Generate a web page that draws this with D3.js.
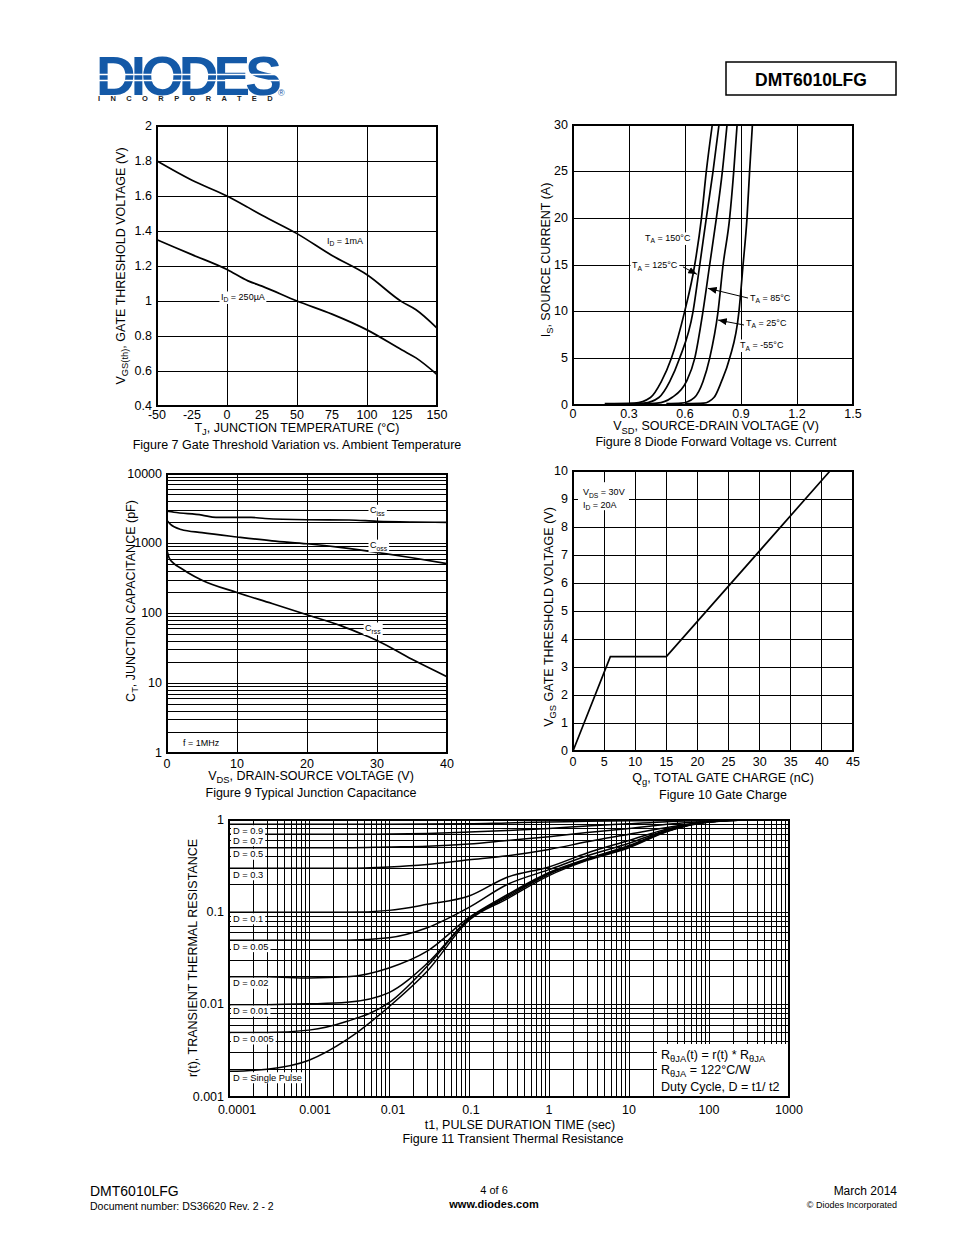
<!DOCTYPE html>
<html><head><meta charset="utf-8">
<script src="https://cdn.jsdelivr.net/npm/d3@7"></script>
<style>
body{margin:0;background:#fff}
svg{display:block}
text{font-family:"Liberation Sans",Arial,Helvetica,sans-serif}
</style>
</head><body>
<svg id="page" width="954" height="1235"></svg>
<script>
// ---------------- DATA ----------------
// Figure 7 : gate threshold vs temperature
const fig7Temp      = [-50, -25, 0, 15, 25, 50, 75, 100, 125, 135, 150];
const fig7Vth1mA    = [1.80, 1.69, 1.60, 1.535, 1.49, 1.385, 1.26, 1.15, 0.995, 0.95, 0.845];
const fig7Vth250uA  = [1.35, 1.265, 1.18, 1.115, 1.085, 1.0, 0.925, 0.835, 0.72, 0.675, 0.58];
const fig7XTicks    = [-50, -25, 0, 25, 50, 75, 100, 125, 150];
const fig7YTicks    = [0.4, 0.6, 0.8, 1, 1.2, 1.4, 1.6, 1.8, 2];
const fig7XGrid     = [-50, 0, 50, 100, 150];

// Figure 8 : diode forward voltage vs current
const fig8Current = [0.15, 0.2, 0.8, 2.5, 5, 10, 15, 20, 25, 30];
const fig8V150    = [0.17, 0.33, 0.415, 0.473, 0.527, 0.598, 0.652, 0.688, 0.714, 0.746];
const fig8V125    = [0.30, 0.38, 0.46, 0.518, 0.571, 0.643, 0.679, 0.714, 0.75, 0.782];
const fig8V85     = [0.38, 0.45, 0.53, 0.607, 0.652, 0.696, 0.732, 0.768, 0.80, 0.825];
const fig8V25     = [0.50, 0.58, 0.65, 0.696, 0.732, 0.777, 0.804, 0.839, 0.861, 0.879];
const fig8Vm55    = [0.60, 0.70, 0.755, 0.795, 0.839, 0.889, 0.911, 0.932, 0.946, 0.961];
const fig8XTicks  = [0, 0.3, 0.6, 0.9, 1.2, 1.5];
const fig8YTicks  = [0, 5, 10, 15, 20, 25, 30];

// Figure 9 : junction capacitance
const fig9VdsCiss = [0, 1, 5, 7, 12, 14, 20, 26, 30, 35, 40];
const fig9Ciss    = [2930, 2830, 2580, 2390, 2390, 2300, 2210, 2190, 2100, 2050, 2030];
const fig9VdsCoss = [0, 0.5, 2, 5, 10, 15, 20, 25, 30, 35, 40];
const fig9Coss    = [2155, 1900, 1600, 1440, 1250, 1100, 1000, 880, 750, 630, 520];
const fig9VdsCrss = [0, 0.3, 1, 2, 3, 5, 10, 15, 20, 25, 28, 30, 35, 40];
const fig9Crss    = [803, 630, 520, 445, 385, 300, 200, 139, 96, 66, 50, 41, 22, 12.4];
const fig9XTicks  = [0, 10, 20, 30, 40];
const fig9YTicks  = [1, 10, 100, 1000, 10000];

// Figure 10 : gate charge
const fig10Qg     = [0, 6, 15, 41.3];
const fig10Vgs    = [0, 3.37, 3.37, 10];
const fig10XTicks = [0, 5, 10, 15, 20, 25, 30, 35, 40, 45];
const fig10YTicks = [0, 1, 2, 3, 4, 5, 6, 7, 8, 9, 10];

// Figure 11 : transient thermal resistance
const fig11Time   = [0.0001, 0.0003, 0.001, 0.003, 0.01, 0.03, 0.1, 0.3, 1, 3, 10, 30, 100, 300, 1000];
const fig11D09    = [0.9, 0.9, 0.9, 0.9, 0.9, 0.905, 0.91, 0.93, 0.95, 0.97, 0.98, 0.99, 1, 1, 1];
const fig11D07    = [0.7, 0.7, 0.7, 0.7, 0.705, 0.715, 0.74, 0.77, 0.81, 0.86, 0.91, 0.96, 0.99, 1, 1];
const fig11D05    = [0.5, 0.5, 0.5, 0.5, 0.51, 0.52, 0.55, 0.6, 0.66, 0.73, 0.81, 0.9, 0.97, 1, 1];
const fig11D03    = [0.3, 0.3, 0.3, 0.3, 0.31, 0.33, 0.37, 0.41, 0.48, 0.58, 0.7, 0.83, 0.95, 1, 1];
const fig11D01    = [0.1, 0.1, 0.1, 0.1, 0.105, 0.122, 0.15, 0.24, 0.31, 0.44, 0.6, 0.8, 0.97, 1, 1];
const fig11D005   = [0.05, 0.05, 0.05, 0.05, 0.053, 0.068, 0.113, 0.2, 0.29, 0.41, 0.56, 0.78, 0.96, 1, 1];
const fig11D002   = [0.02, 0.02, 0.0195, 0.02, 0.025, 0.038, 0.088, 0.155, 0.27, 0.38, 0.53, 0.77, 0.96, 1, 1];
const fig11D001   = [0.01, 0.01, 0.0102, 0.0106, 0.0135, 0.028, 0.085, 0.15, 0.265, 0.375, 0.52, 0.76, 0.96, 1, 1];
const fig11D0005  = [0.005, 0.005, 0.0053, 0.0066, 0.0105, 0.026, 0.085, 0.145, 0.26, 0.37, 0.51, 0.76, 0.96, 1, 1];
const fig11Single = [0.0019, 0.002, 0.0025, 0.0042, 0.0095, 0.023, 0.082, 0.14, 0.25, 0.365, 0.5, 0.75, 0.95, 1, 1];
const fig11Duty   = ['0.9', '0.7', '0.5', '0.3', '0.1', '0.05', '0.02', '0.01', '0.005', 'Single Pulse'];
const fig11XTicks = [0.0001, 0.001, 0.01, 0.1, 1, 10, 100, 1000];
const fig11YTicks = [0.001, 0.01, 0.1, 1];

// ---------------- HELPERS ----------------
const svg = d3.select('#page');
svg.append('rect').attr('width', 954).attr('height', 1235).attr('fill', '#fff');

const defs = svg.append('defs');
defs.append('marker').attr('id', 'arr').attr('viewBox', '0 0 10 8')
  .attr('refX', 10).attr('refY', 4).attr('markerWidth', 9).attr('markerHeight', 7)
  .attr('markerUnits', 'userSpaceOnUse').attr('orient', 'auto')
  .append('path').attr('d', 'M0,0L10,4L0,8z').attr('fill', '#000');

function txt(parent, x, y, segs, o = {}) {
  const size = o.size || 12.5;
  const t = parent.append('text')
    .attr('font-size', size)
    .attr('font-weight', o.weight || 'normal')
    .attr('text-anchor', o.anchor || 'start')
    .attr('fill', o.fill || '#000');
  if (o.rotate) t.attr('transform', `translate(${x},${y}) rotate(-90)`);
  else t.attr('x', x).attr('y', y);
  if (typeof segs === 'string') segs = [[segs]];
  let shifted = false;
  segs.forEach(s => {
    const ts = t.append('tspan').text(s[0]);
    if (s[1] === 'sub') {
      ts.attr('font-size', size * 0.75);
      if (!shifted) { ts.attr('dy', size * 0.28); shifted = true; }
    } else if (shifted) { ts.attr('dy', -size * 0.28); shifted = false; }
  });
  if (o.bg) {
    const b = t.node().getBBox();
    const p = o.pad == null ? 1.5 : o.pad;
    parent.insert('rect', () => t.node())
      .attr('x', b.x - p).attr('y', b.y - 0.5).attr('width', b.width + 2 * p).attr('height', b.height + 1)
      .attr('fill', '#fff');
  }
  return t;
}

function grid(g, x, y, xv, yv, sw) {
  const [x0, x1] = x.range(), [y0, y1] = y.range();
  g.append('g').selectAll('line').data(xv).join('line')
    .attr('x1', d => x(d)).attr('x2', d => x(d)).attr('y1', y0).attr('y2', y1)
    .attr('stroke', '#000').attr('stroke-width', sw || 1).attr('shape-rendering', 'crispEdges');
  g.append('g').selectAll('line').data(yv).join('line')
    .attr('x1', x0).attr('x2', x1).attr('y1', d => y(d)).attr('y2', d => y(d))
    .attr('stroke', '#000').attr('stroke-width', sw || 1).attr('shape-rendering', 'crispEdges');
  g.append('rect').attr('x', x0).attr('y', y1).attr('width', x1 - x0).attr('height', y0 - y1)
    .attr('fill', 'none').attr('stroke', '#000').attr('stroke-width', 1.2).attr('shape-rendering', 'crispEdges');
}

function tickLabels(g, x, y, xt, yt, xOff, dxFn) {
  const [x0] = x.range(), [y0] = y.range();
  g.append('g').selectAll('text').data(xt).join('text')
    .attr('x', d => x(d) + (dxFn ? dxFn(d) : 0)).attr('y', y0 + xOff).attr('text-anchor', 'middle').attr('font-size', 12.5)
    .text(d => String(d));
  g.append('g').selectAll('text').data(yt).join('text')
    .attr('x', x0 - 5).attr('y', d => y(d) + 3.5).attr('text-anchor', 'end').attr('font-size', 12.5)
    .text(d => String(d));
}

function curve(g, x, y, xs, ys, sw) {
  const pts = xs.map((v, i) => [x(v), y(ys[i])]);
  g.append('path').attr('d', d3.line().curve(d3.curveMonotoneX)(pts))
    .attr('fill', 'none').attr('stroke', '#000').attr('stroke-width', sw || 1.7)
    .attr('stroke-linejoin', 'round');
}

function logGrid(lo, hi) {
  const out = [];
  for (let e = Math.round(Math.log10(lo)); e < Math.round(Math.log10(hi)); e++)
    for (let k = 1; k <= 9; k++) out.push(+(k * Math.pow(10, e)).toPrecision(6));
  out.push(hi);
  return out;
}

// ---------------- HEADER ----------------
const hdr = svg.append('g');
const logo = hdr.append('text').attr('font-weight', 'bold');
logo.append('tspan').attr('x', 96).attr('y', 95).attr('font-size', 55).attr('letter-spacing', -5)
  .attr('fill', '#1459a7').text('DIODES');
logo.append('tspan').attr('x', 278).attr('y', 96).attr('font-size', 9).attr('font-weight', 'normal')
  .attr('fill', '#1459a7').text('®');
logo.append('tspan').attr('x', 98).attr('y', 101).attr('font-size', 7.5).attr('letter-spacing', 10.4)
  .attr('fill', '#222').text('INCORPORATED');
[74.5, 80.5].forEach(yy => hdr.append('line').attr('x1', 96).attr('x2', 279).attr('y1', yy).attr('y2', yy)
  .attr('stroke', '#fff').attr('stroke-width', 1.3));
hdr.append('rect').attr('x', 726).attr('y', 62).attr('width', 170).attr('height', 33)
  .attr('fill', 'none').attr('stroke', '#000').attr('stroke-width', 1.5);
hdr.append('text').attr('x', 811).attr('y', 85.5).attr('text-anchor', 'middle').attr('font-size', 17.5)
  .attr('font-weight', 'bold').text('DMT6010LFG');

// ---------------- FIGURE 7 ----------------
{
  const g = svg.append('g');
  const x = d3.scaleLinear().domain([-50, 150]).range([157, 437]);
  const y = d3.scaleLinear().domain([0.4, 2]).range([406, 126]);
  grid(g, x, y, fig7XGrid, fig7YTicks);
  tickLabels(g, x, y, fig7XTicks, fig7YTicks, 12.5);
  curve(g, x, y, fig7Temp, fig7Vth1mA);
  curve(g, x, y, fig7Temp, fig7Vth250uA);
  txt(g, x(71.4), y(1.343) + 3, [['I'], ['D', 'sub'], [' = 1mA']], { size: 9, bg: true });
  txt(g, x(-4.3), y(1.023) + 3, [['I'], ['D', 'sub'], [' = 250µA']], { size: 9, bg: true });
  txt(g, 124.5, 266, [['V'], ['GS(th)', 'sub'], [', GATE THRESHOLD VOLTAGE (V)']], { rotate: true, anchor: 'middle' });
  txt(g, 297, 431.5, [['T'], ['J', 'sub'], [', JUNCTION TEMPERATURE (°C)']], { anchor: 'middle' });
  txt(g, 297, 448.5, 'Figure 7 Gate Threshold Variation vs. Ambient Temperature', { anchor: 'middle' });
}

// ---------------- FIGURE 8 ----------------
{
  const g = svg.append('g');
  const x = d3.scaleLinear().domain([0, 1.5]).range([573, 853]);
  const y = d3.scaleLinear().domain([0, 30]).range([405, 125]);
  grid(g, x, y, fig8XTicks, fig8YTicks);
  tickLabels(g, x, y, fig8XTicks, fig8YTicks, 12.5);
  [fig8V150, fig8V125, fig8V85, fig8V25, fig8Vm55].forEach(v => curve(g, x, y, v, fig8Current));
  const arrow = (a, b) => g.append('line').attr('x1', x(a[0])).attr('y1', y(a[1])).attr('x2', x(b[0])).attr('y2', y(b[1]))
    .attr('stroke', '#000').attr('stroke-width', 1).attr('marker-end', 'url(#arr)');
  arrow([0.589, 14.8], [0.664, 14.0]);
  arrow([0.9375, 11.46], [0.723, 12.5]);
  arrow([0.916, 8.57], [0.777, 9.1]);
  txt(g, x(0.386), y(17.9) + 3, [['T'], ['A', 'sub'], [' = 150°C']], { size: 9, bg: true });
  txt(g, x(0.316), y(15) + 3, [['T'], ['A', 'sub'], [' = 125°C']], { size: 9, bg: true });
  txt(g, x(0.948), y(11.5) + 3, [['T'], ['A', 'sub'], [' = 85°C']], { size: 9, bg: true });
  txt(g, x(0.927), y(8.8) + 3, [['T'], ['A', 'sub'], [' = 25°C']], { size: 9, bg: true });
  txt(g, x(0.895), y(6.43) + 3, [['T'], ['A', 'sub'], [' = -55°C']], { size: 9, bg: true });
  txt(g, 549.5, 260, [['I'], ['S', 'sub'], [', SOURCE CURRENT (A)']], { rotate: true, anchor: 'middle' });
  txt(g, 716, 430, [['V'], ['SD', 'sub'], [', SOURCE-DRAIN VOLTAGE (V)']], { anchor: 'middle' });
  txt(g, 716, 445.5, 'Figure 8 Diode Forward Voltage vs. Current', { anchor: 'middle' });
}

// ---------------- FIGURE 9 ----------------
{
  const g = svg.append('g');
  const x = d3.scaleLinear().domain([0, 40]).range([167, 447]);
  const y = d3.scaleLog().domain([1, 10000]).range([753, 474]);
  grid(g, x, y, [10, 20, 30], logGrid(1, 10000));
  tickLabels(g, x, y, fig9XTicks, fig9YTicks, 14.5);
  curve(g, x, y, fig9VdsCiss, fig9Ciss);
  curve(g, x, y, fig9VdsCoss, fig9Coss);
  curve(g, x, y, fig9VdsCrss, fig9Crss);
  txt(g, x(29), y(3020) + 3, [['C'], ['iss', 'sub']], { size: 9, bg: true });
  txt(g, x(29), y(955) + 3, [['C'], ['oss', 'sub']], { size: 9, bg: true });
  txt(g, x(28.3), y(62) + 3, [['C'], ['rss', 'sub']], { size: 9, bg: true });
  txt(g, x(2.3), y(1.39) + 3, 'f = 1MHz', { size: 9, bg: true });
  txt(g, 134.5, 601, [['C'], ['T', 'sub'], [', JUNCTION CAPACITANCE (pF)']], { rotate: true, anchor: 'middle' });
  txt(g, 311, 779.5, [['V'], ['DS', 'sub'], [', DRAIN-SOURCE VOLTAGE (V)']], { anchor: 'middle' });
  txt(g, 311, 796.5, 'Figure 9 Typical Junction Capacitance', { anchor: 'middle' });
}

// ---------------- FIGURE 10 ----------------
{
  const g = svg.append('g');
  const x = d3.scaleLinear().domain([0, 45]).range([573, 853]);
  const y = d3.scaleLinear().domain([0, 10]).range([751, 471]);
  grid(g, x, y, fig10XTicks, fig10YTicks);
  tickLabels(g, x, y, fig10XTicks, fig10YTicks, 14.5);
  const pts = fig10Qg.map((q, i) => [x(q), y(fig10Vgs[i])]);
  g.append('path').attr('d', d3.line()(pts)).attr('fill', 'none').attr('stroke', '#000').attr('stroke-width', 1.7);
  g.append('rect').attr('x', x(0.8)).attr('y', y(9.6)).attr('width', 51).attr('height', 28).attr('fill', '#fff');
  txt(g, x(1.6), y(9.25) + 3, [['V'], ['DS', 'sub'], [' = 30V']], { size: 9 });
  txt(g, x(1.6), y(8.8) + 3, [['I'], ['D', 'sub'], [' = 20A']], { size: 9 });
  txt(g, 552.5, 617, [['V'], ['GS', 'sub'], [' GATE THRESHOLD VOLTAGE (V)']], { rotate: true, anchor: 'middle' });
  txt(g, 723, 781.5, [['Q'], ['g', 'sub'], [', TOTAL GATE CHARGE (nC)']], { anchor: 'middle' });
  txt(g, 723, 798.5, 'Figure 10 Gate Charge', { anchor: 'middle' });
}

// ---------------- FIGURE 11 ----------------
{
  const g = svg.append('g');
  const x = d3.scaleLog().domain([0.0001, 1000]).range([229, 789]);
  const y = d3.scaleLog().domain([0.001, 1]).range([1097, 820]);
  grid(g, x, y, logGrid(0.0001, 1000), logGrid(0.001, 1));
  tickLabels(g, x, y, fig11XTicks, fig11YTicks, 16.5, d => d < 1 ? -2 * Math.log10(d) : 0);
  const series = [fig11D09, fig11D07, fig11D05, fig11D03, fig11D01, fig11D005, fig11D002, fig11D001, fig11D0005, fig11Single];
  series.forEach(s => curve(g, x, y, fig11Time, s, 1.5));
  series.forEach((s, i) => {
    txt(g, x(0.0001) + 4, y(s[0]) + 9.5, 'D = ' + fig11Duty[i], { size: 9.3, bg: true, pad: 2 });
  });
  const lx = x.range()[1] - 132, ly = y.range()[0] - 53;
  g.append('rect').attr('x', lx).attr('y', ly).attr('width', 131).attr('height', 52).attr('fill', '#fff');
  txt(g, lx + 4, ly + 14.5, [['R'], ['θJA', 'sub'], ['(t) = r(t) * R'], ['θJA', 'sub']]);
  txt(g, lx + 4, ly + 29.5, [['R'], ['θJA', 'sub'], [' = 122°C/W']]);
  txt(g, lx + 4, ly + 46.5, 'Duty Cycle, D = t1/ t2');
  txt(g, 196.5, 958, 'r(t), TRANSIENT THERMAL RESISTANCE', { rotate: true, anchor: 'middle' });
  txt(g, 520, 1128.5, 't1, PULSE DURATION TIME (sec)', { anchor: 'middle' });
  txt(g, 513, 1142.5, 'Figure 11 Transient Thermal Resistance', { anchor: 'middle' });
}

// ---------------- FOOTER ----------------
{
  const g = svg.append('g');
  txt(g, 90, 1196, 'DMT6010LFG', { size: 14 });
  txt(g, 90, 1210, 'Document number: DS36620 Rev. 2 - 2', { size: 10.5 });
  txt(g, 494, 1194, '4 of 6', { size: 11, anchor: 'middle' });
  txt(g, 494, 1208, 'www.diodes.com', { size: 11, anchor: 'middle', weight: 'bold' });
  txt(g, 897, 1195, 'March 2014', { size: 12, anchor: 'end' });
  txt(g, 897, 1208, '© Diodes Incorporated', { size: 9, anchor: 'end' });
}
</script>
</body></html>
